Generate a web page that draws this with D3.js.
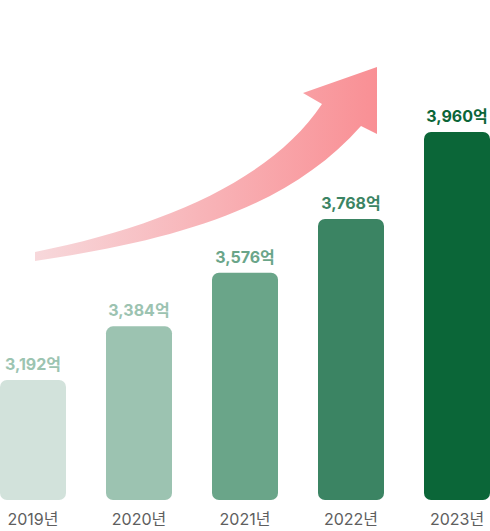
<!DOCTYPE html>
<html>
<head>
<meta charset="utf-8">
<script src="https://cdn.jsdelivr.net/npm/d3@7"></script>
<style>
  html, body { margin: 0; padding: 0; background: #ffffff; }
  svg { display: block; }
  text { font-family: Inter, "Noto Sans CJK KR", "Noto Sans", sans-serif; }
</style>
</head>
<body>
<div id="chart"></div>
<script>
// ---- data ----
const years = ["2019년", "2020년", "2021년", "2022년", "2023년"];
const values = [3192, 3384, 3576, 3768, 3960];
const valueLabels = ["3,192억", "3,384억", "3,576억", "3,768억", "3,960억"];
const barColors = ["#d2e2db", "#9cc3b1", "#6aa589", "#3b8463", "#0b6638"];
const labelColors = ["#9cc4b1", "#9cc3b1", "#6aa589", "#3b8463", "#0b6638"];

// ---- layout ----
const W = 490, H = 531;
const baseY = 500;

const svg = d3.select("#chart").append("svg")
  .attr("width", W).attr("height", H);

const x = d3.scaleBand()
  .domain(years)
  .range([0, W])
  .paddingInner(0.3774)
  .paddingOuter(0);

// bar top positions follow the reference's (non-uniform) visual scale
const y = d3.scaleLinear()
  .domain([3192, 3768, 3960])
  .range([380, 219, 132]);

// ---- arrow decoration ----
const defs = svg.append("defs");
const grad = defs.append("linearGradient")
  .attr("id", "arrowGrad")
  .attr("gradientUnits", "userSpaceOnUse")
  .attr("x1", 35).attr("y1", 0).attr("x2", 378).attr("y2", 0);
grad.append("stop").attr("offset", "0%").attr("stop-color", "#f7d8db");
grad.append("stop").attr("offset", "100%").attr("stop-color", "#f98f94");

const arrow = d3.path();
arrow.moveTo(35, 252);
arrow.bezierCurveTo(165, 226, 272, 179, 322, 104);
arrow.lineTo(303, 93);
arrow.lineTo(377, 67);
arrow.lineTo(377, 134);
arrow.lineTo(361, 126);
arrow.bezierCurveTo(291, 205, 185, 239, 35, 261);
arrow.closePath();

svg.append("path")
  .attr("d", arrow.toString())
  .attr("fill", "url(#arrowGrad)");

// ---- bars ----
const g = svg.append("g");

g.selectAll("rect.bar")
  .data(values)
  .join("rect")
  .attr("class", "bar")
  .attr("x", (d, i) => x(years[i]))
  .attr("y", d => y(d))
  .attr("width", x.bandwidth())
  .attr("height", d => baseY - y(d))
  .attr("rx", 7).attr("ry", 7)
  .attr("fill", (d, i) => barColors[i]);

// value labels
g.selectAll("text.val")
  .data(values)
  .join("text")
  .attr("class", "val")
  .attr("x", (d, i) => x(years[i]) + x.bandwidth() / 2)
  .attr("y", d => y(d) - 10)
  .attr("text-anchor", "middle")
  .attr("font-size", 16)
  .attr("font-weight", 700)
  .attr("fill", (d, i) => labelColors[i])
  .text((d, i) => valueLabels[i]);

// year labels (axis)
const axis = svg.append("g")
  .attr("transform", `translate(0,${baseY})`)
  .call(d3.axisBottom(x).tickSize(0).tickPadding(14));
axis.select(".domain").remove();
axis.selectAll("text")
  .attr("font-size", 16)
  .attr("fill", "#5e5e5e")
  .style("font-family", "Inter, 'Noto Sans CJK KR', sans-serif");
</script>
</body>
</html>
